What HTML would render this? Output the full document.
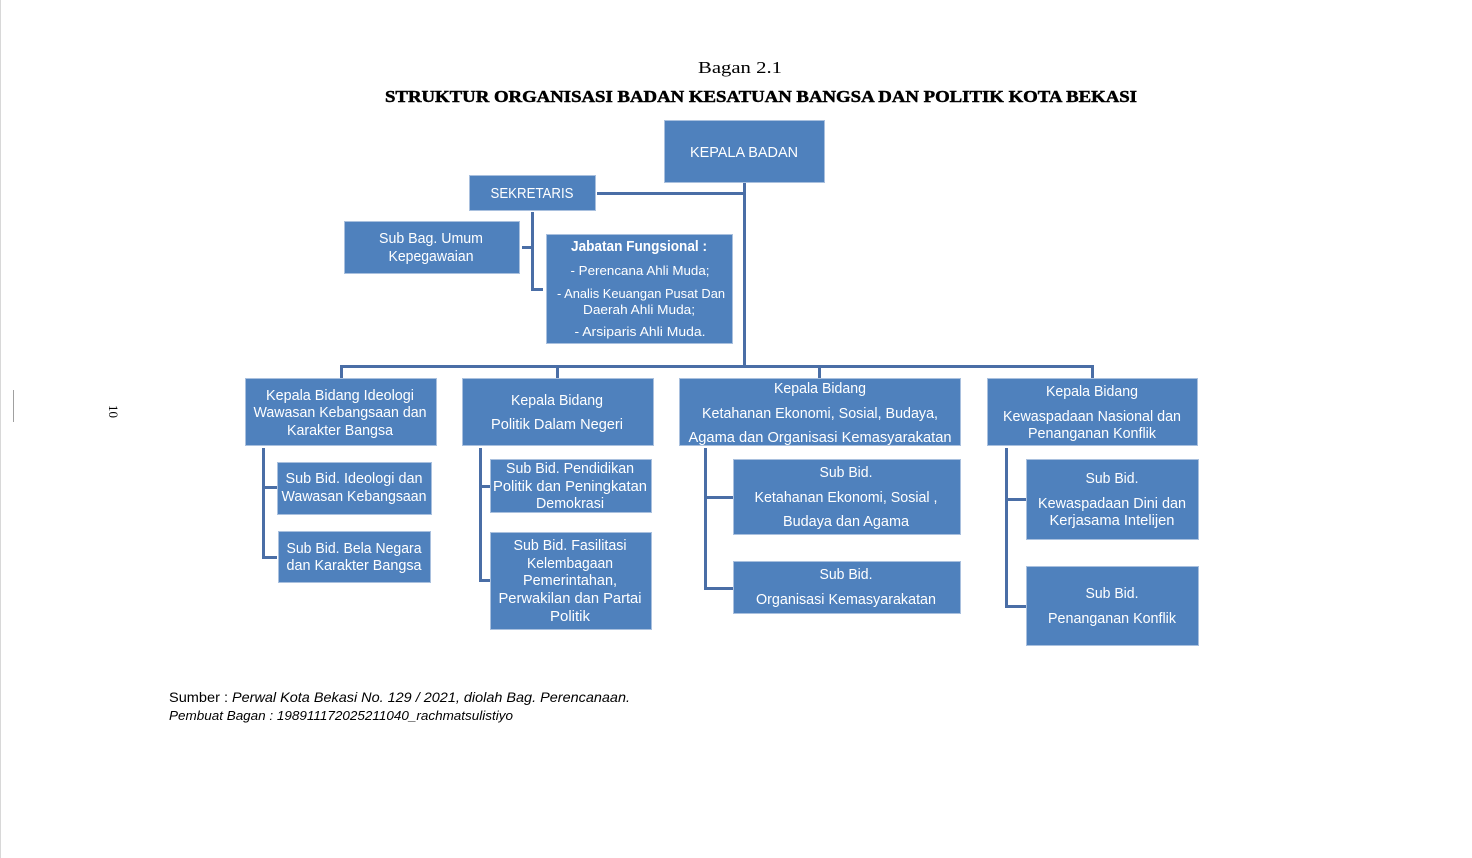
<!DOCTYPE html>
<html><head><meta charset="utf-8"><style>
html,body{margin:0;padding:0;background:#fff;}
svg{display:block;}
.b{fill:#4f81bd;stroke:#a9c0de;stroke-width:1;}
.t{fill:#fff;font-family:"Liberation Sans",sans-serif;font-size:14.5px;text-anchor:middle;}
.s{font-size:13px;}
.c{stroke:#4a6ea6;stroke-width:3;fill:none;}
</style></head><body>
<svg width="1472" height="858" viewBox="0 0 1472 858" xmlns="http://www.w3.org/2000/svg">
<rect x="0" y="0" width="1472" height="858" fill="#fff"/>
<line x1="0.5" y1="0" x2="0.5" y2="858" stroke="#d8d8d8" stroke-width="1"/>
<line x1="13.5" y1="390" x2="13.5" y2="422" stroke="#a0a0a0" stroke-width="1"/>
<text x="0" y="0" transform="translate(109,405) rotate(90)" font-family="Liberation Serif,serif" font-size="13" fill="#000">10</text>

<text x="698" y="73" font-family="Liberation Serif,serif" font-size="17" fill="#000" textLength="84" lengthAdjust="spacingAndGlyphs">Bagan 2.1</text>
<text x="385" y="102" font-family="Liberation Serif,serif" font-weight="bold" font-size="17" fill="#000" stroke="#000" stroke-width="0.5" textLength="752" lengthAdjust="spacingAndGlyphs">STRUKTUR ORGANISASI BADAN KESATUAN BANGSA DAN POLITIK KOTA BEKASI</text>

<!-- connectors -->
<path class="c" d="M744.5 183 V367"/>
<path class="c" d="M597 193.5 H746"/>
<path class="c" d="M532.5 212 V289.5 H543 M522 247.5 H532.5"/>
<path class="c" d="M341.5 378 V366.5 H1092.5 V378 M557.5 366.5 V378 M819.5 366.5 V378"/>
<path class="c" d="M263.5 448 V557.5 H277 M263.5 487.5 H277"/>
<path class="c" d="M480.5 448 V580.5 H490 M480.5 486.5 H490"/>
<path class="c" d="M705.5 448 V588.5 H733 M705.5 497.5 H733"/>
<path class="c" d="M1006.5 448 V606.5 H1026 M1006.5 499.5 H1026"/>

<!-- boxes -->
<rect class="b" x="664.5" y="120.5" width="160" height="62"/>
<text class="t" x="744" y="157" font-size="15.5" textLength="108" lengthAdjust="spacingAndGlyphs">KEPALA BADAN</text>

<rect class="b" x="469.5" y="175.5" width="126" height="35"/>
<text class="t" x="532" y="198" font-size="15.5" textLength="83" lengthAdjust="spacingAndGlyphs">SEKRETARIS</text>

<rect class="b" x="344.5" y="221.5" width="175" height="52"/>
<text class="t" x="431" y="243" textLength="104" lengthAdjust="spacingAndGlyphs">Sub Bag. Umum</text>
<text class="t" x="431" y="261" textLength="85" lengthAdjust="spacingAndGlyphs">Kepegawaian</text>

<rect class="b" x="546.5" y="234.5" width="186" height="109"/>
<text class="t" x="639" y="251" font-weight="bold" textLength="136" lengthAdjust="spacingAndGlyphs">Jabatan Fungsional :</text>
<text class="t s" x="640" y="275" textLength="139" lengthAdjust="spacingAndGlyphs">- Perencana Ahli Muda;</text>
<text class="t s" x="641" y="298" textLength="168" lengthAdjust="spacingAndGlyphs">- Analis Keuangan Pusat Dan</text>
<text class="t s" x="639" y="314" textLength="112" lengthAdjust="spacingAndGlyphs">Daerah Ahli Muda;</text>
<text class="t s" x="640" y="336" textLength="131" lengthAdjust="spacingAndGlyphs">- Arsiparis  Ahli Muda.</text>

<!-- Bidang 1 -->
<rect class="b" x="245.5" y="378.5" width="191" height="67"/>
<text class="t" x="340" y="400" textLength="148" lengthAdjust="spacingAndGlyphs">Kepala Bidang Ideologi</text>
<text class="t" x="340" y="417" textLength="173" lengthAdjust="spacingAndGlyphs">Wawasan Kebangsaan dan</text>
<text class="t" x="340" y="435" textLength="106" lengthAdjust="spacingAndGlyphs">Karakter Bangsa</text>

<rect class="b" x="277.5" y="462.5" width="154" height="52"/>
<text class="t" x="354" y="483" textLength="137" lengthAdjust="spacingAndGlyphs">Sub Bid. Ideologi dan</text>
<text class="t" x="354" y="501" textLength="145" lengthAdjust="spacingAndGlyphs">Wawasan Kebangsaan</text>

<rect class="b" x="278.5" y="531.5" width="152" height="51"/>
<text class="t" x="354" y="553" textLength="135" lengthAdjust="spacingAndGlyphs">Sub Bid. Bela Negara</text>
<text class="t" x="354" y="570" textLength="135" lengthAdjust="spacingAndGlyphs">dan Karakter Bangsa</text>

<!-- Bidang 2 -->
<rect class="b" x="462.5" y="378.5" width="191" height="67"/>
<text class="t" x="557" y="405" textLength="92" lengthAdjust="spacingAndGlyphs">Kepala Bidang</text>
<text class="t" x="557" y="429" textLength="132" lengthAdjust="spacingAndGlyphs">Politik Dalam Negeri</text>

<rect class="b" x="490.5" y="459.5" width="161" height="53"/>
<text class="t" x="570" y="473" textLength="128" lengthAdjust="spacingAndGlyphs">Sub Bid. Pendidikan</text>
<text class="t" x="570" y="491" textLength="154" lengthAdjust="spacingAndGlyphs">Politik dan Peningkatan</text>
<text class="t" x="570" y="508" textLength="68" lengthAdjust="spacingAndGlyphs">Demokrasi</text>

<rect class="b" x="490.5" y="532.5" width="161" height="97"/>
<text class="t" x="570" y="550" textLength="113" lengthAdjust="spacingAndGlyphs">Sub Bid. Fasilitasi</text>
<text class="t" x="570" y="568" textLength="86" lengthAdjust="spacingAndGlyphs">Kelembagaan</text>
<text class="t" x="570" y="585" textLength="94" lengthAdjust="spacingAndGlyphs">Pemerintahan,</text>
<text class="t" x="570" y="603" textLength="143" lengthAdjust="spacingAndGlyphs">Perwakilan dan Partai</text>
<text class="t" x="570" y="621" textLength="40" lengthAdjust="spacingAndGlyphs">Politik</text>

<!-- Bidang 3 -->
<rect class="b" x="679.5" y="378.5" width="281" height="67"/>
<text class="t" x="820" y="393" textLength="92" lengthAdjust="spacingAndGlyphs">Kepala Bidang</text>
<text class="t" x="820" y="418" textLength="236" lengthAdjust="spacingAndGlyphs">Ketahanan Ekonomi, Sosial, Budaya,</text>
<text class="t" x="820" y="442" textLength="263" lengthAdjust="spacingAndGlyphs">Agama dan  Organisasi  Kemasyarakatan</text>

<rect class="b" x="733.5" y="459.5" width="227" height="75"/>
<text class="t" x="846" y="477" textLength="53" lengthAdjust="spacingAndGlyphs">Sub Bid.</text>
<text class="t" x="846" y="502" textLength="183" lengthAdjust="spacingAndGlyphs">Ketahanan Ekonomi, Sosial ,</text>
<text class="t" x="846" y="526" textLength="126" lengthAdjust="spacingAndGlyphs">Budaya dan Agama</text>

<rect class="b" x="733.5" y="561.5" width="227" height="52"/>
<text class="t" x="846" y="579" textLength="53" lengthAdjust="spacingAndGlyphs">Sub Bid.</text>
<text class="t" x="846" y="604" textLength="180" lengthAdjust="spacingAndGlyphs">Organisasi Kemasyarakatan</text>

<!-- Bidang 4 -->
<rect class="b" x="987.5" y="378.5" width="210" height="67"/>
<text class="t" x="1092" y="396" textLength="92" lengthAdjust="spacingAndGlyphs">Kepala Bidang</text>
<text class="t" x="1092" y="421" textLength="178" lengthAdjust="spacingAndGlyphs">Kewaspadaan Nasional dan</text>
<text class="t" x="1092" y="438" textLength="128" lengthAdjust="spacingAndGlyphs">Penanganan Konflik</text>

<rect class="b" x="1026.5" y="459.5" width="172" height="80"/>
<text class="t" x="1112" y="483" textLength="53" lengthAdjust="spacingAndGlyphs">Sub Bid.</text>
<text class="t" x="1112" y="508" textLength="148" lengthAdjust="spacingAndGlyphs">Kewaspadaan Dini dan</text>
<text class="t" x="1112" y="525" textLength="125" lengthAdjust="spacingAndGlyphs">Kerjasama Intelijen</text>

<rect class="b" x="1026.5" y="566.5" width="172" height="79"/>
<text class="t" x="1112" y="598" textLength="53" lengthAdjust="spacingAndGlyphs">Sub Bid.</text>
<text class="t" x="1112" y="623" textLength="128" lengthAdjust="spacingAndGlyphs">Penanganan Konflik</text>

<!-- footer -->
<text x="169" y="702" font-family="Liberation Sans,sans-serif" font-size="14" fill="#000" textLength="59" lengthAdjust="spacingAndGlyphs">Sumber :</text>
<text x="232" y="702" font-family="Liberation Sans,sans-serif" font-size="14" font-style="italic" fill="#000" textLength="398" lengthAdjust="spacingAndGlyphs">Perwal Kota Bekasi No. 129 / 2021, diolah Bag. Perencanaan.</text>
<text x="169" y="720" font-family="Liberation Sans,sans-serif" font-size="13" font-style="italic" fill="#000" textLength="344" lengthAdjust="spacingAndGlyphs">Pembuat Bagan : 198911172025211040_rachmatsulistiyo</text>
</svg>
</body></html>
